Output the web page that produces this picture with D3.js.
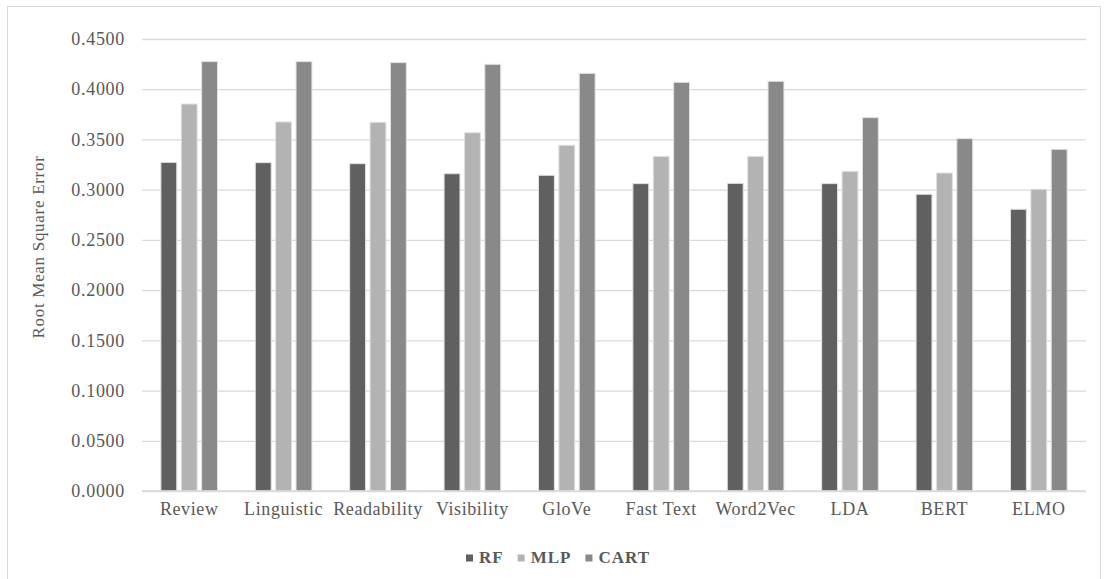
<!DOCTYPE html>
<html>
<head>
<meta charset="utf-8">
<script src="https://cdn.jsdelivr.net/npm/d3@7"></script>
<style>
  html, body { margin: 0; padding: 0; background: #ffffff; }
  svg { display: block; }
  text { font-family: "Liberation Serif", "Times New Roman", serif; fill: #595959; }
</style>
</head>
<body>
<svg id="chart" width="1106" height="579"></svg>
<script>
// Feature sets on the x axis
const categories = ["Review", "Linguistic", "Readability", "Visibility", "GloVe",
                    "Fast Text", "Word2Vec", "LDA", "BERT", "ELMO"];
// Models compared
const seriesNames = ["RF", "MLP", "CART"];
// Root mean square error per model, one value per feature set
const rfValues   = [0.3272, 0.3269, 0.3259, 0.3159, 0.3143, 0.3060, 0.3063, 0.3060, 0.2954, 0.2805];
const mlpValues  = [0.3853, 0.3674, 0.3671, 0.3567, 0.3442, 0.3332, 0.3332, 0.3183, 0.3166, 0.3004];
const cartValues = [0.4275, 0.4275, 0.4265, 0.4248, 0.4158, 0.4069, 0.4079, 0.3717, 0.3508, 0.3402];
// Y axis ticks
const yTicks = [0, 0.05, 0.10, 0.15, 0.20, 0.25, 0.30, 0.35, 0.40, 0.45];
const yLabel = "Root Mean Square Error";

const seriesValues = { RF: rfValues, MLP: mlpValues, CART: cartValues };
const colors = { RF: "#606060", MLP: "#b3b3b3", CART: "#898989" };

const svg = d3.select("#chart");
const plot = { left: 142, right: 1086, top: 39, bottom: 491 };

// outer frame
svg.append("rect")
  .attr("x", 7.5).attr("y", 6.5)
  .attr("width", 1093).attr("height", 580)
  .attr("fill", "#ffffff").attr("stroke", "#d9d9d9").attr("stroke-width", 1);

const x = d3.scaleBand()
  .domain(categories)
  .range([plot.left, plot.right])
  .paddingInner(0.4)
  .paddingOuter(0.2);

const xSub = d3.scaleBand()
  .domain(seriesNames)
  .range([0, x.bandwidth()])
  .paddingInner(0.22);

const y = d3.scaleLinear()
  .domain([0, 0.45])
  .range([plot.bottom, plot.top]);

// gridlines and tick labels
const yAxis = d3.axisLeft(y)
  .tickValues(yTicks)
  .tickFormat(d3.format(".4f"))
  .tickSize(-(plot.right - plot.left))
  .tickPadding(17);

const gy = svg.append("g")
  .attr("transform", `translate(${plot.left},0)`)
  .call(yAxis);
gy.select(".domain").remove();
gy.selectAll(".tick line").attr("stroke", "#d9d9d9").attr("stroke-width", 1.3);
gy.selectAll(".tick text")
  .attr("font-size", 18)
  .attr("fill", "#595959")
  .attr("letter-spacing", 0.7)
  .style("font-family", "'Liberation Serif', serif");

// bars
const rows = categories.map((c, i) => ({
  category: c,
  values: seriesNames.map(s => ({ series: s, value: seriesValues[s][i] }))
}));

const groups = svg.append("g")
  .selectAll("g")
  .data(rows)
  .join("g")
  .attr("transform", d => `translate(${x(d.category)},0)`);

groups.selectAll("rect")
  .data(d => d.values)
  .join("rect")
  .attr("x", d => xSub(d.series))
  .attr("y", d => y(d.value))
  .attr("width", xSub.bandwidth())
  .attr("height", d => y(0) - y(d.value))
  .attr("fill", d => colors[d.series])
  .attr("stroke", "#e2e2e2")
  .attr("stroke-width", 1);

// baseline
svg.append("line")
  .attr("x1", plot.left).attr("x2", plot.right)
  .attr("y1", y(0)).attr("y2", y(0))
  .attr("stroke", "#d9d9d9").attr("stroke-width", 1.3);

// category labels
const xAxis = d3.axisBottom(x).tickSize(0).tickPadding(11);
const gx = svg.append("g")
  .attr("transform", `translate(0,${plot.bottom})`)
  .call(xAxis);
gx.select(".domain").remove();
gx.selectAll(".tick text")
  .attr("font-size", 18)
  .attr("fill", "#595959")
  .attr("letter-spacing", 0.6)
  .style("font-family", "'Liberation Serif', serif");

// y axis title
svg.append("text")
  .attr("transform", "translate(44,247) rotate(-90)")
  .attr("text-anchor", "middle")
  .attr("font-size", 17)
  .attr("letter-spacing", 0.7)
  .text(yLabel);

// legend
const legend = svg.append("g");
let cursor = 0;
seriesNames.forEach(s => {
  const item = legend.append("g").attr("transform", `translate(${cursor},0)`);
  item.append("rect")
    .attr("x", 0).attr("y", -8.5)
    .attr("width", 7).attr("height", 7)
    .attr("fill", colors[s]);
  const t = item.append("text")
    .attr("x", 13).attr("y", 0)
    .attr("font-size", 17)
    .attr("font-weight", "bold")
    .attr("letter-spacing", 1)
    .text(s);
  cursor += 13 + t.node().getComputedTextLength() + 14;
});
const legendWidth = cursor - 14;
legend.attr("transform", `translate(${558 - legendWidth / 2},563)`);
</script>
</body>
</html>
